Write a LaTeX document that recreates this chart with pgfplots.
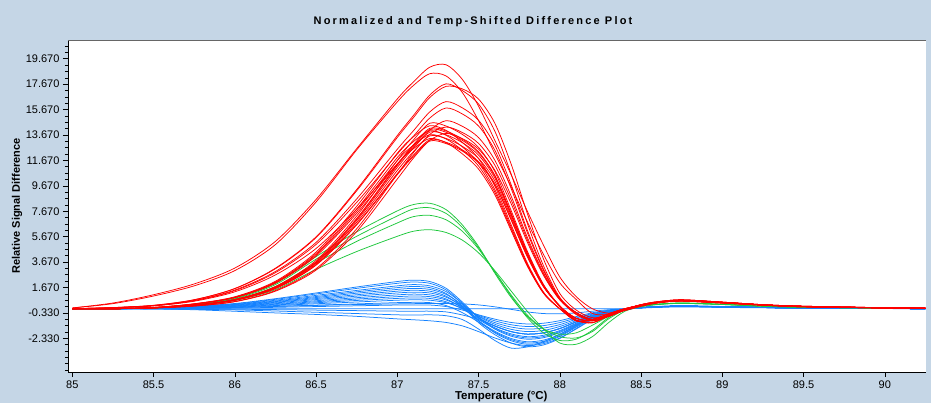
\documentclass[border=0pt]{standalone}
\usepackage{fontspec}
\setmainfont{Liberation Sans}
\newfontfamily\titlefont[LetterSpace=20]{Liberation Sans}
\usepackage{pgfplots}
\pgfplotsset{compat=1.18}
\definecolor{bgblue}{RGB}{197,214,230}
\definecolor{cblue}{RGB}{20,130,255}
\definecolor{cgreen}{RGB}{30,200,60}
\definecolor{cred}{RGB}{255,0,0}
\pgfplotsset{
  rl/.style={cred, line width=0.75pt, smooth, tension=0.5, no markers},
  gl/.style={cgreen, line width=0.75pt, smooth, tension=0.5, no markers},
  bl/.style={cblue, line width=0.75pt, smooth, tension=0.5, no markers},
}
\begin{document}
\begin{tikzpicture}[x=1pt,y=1pt]
\useasboundingbox (0,0) rectangle (931,403);
\fill[bgblue] (0,0) rectangle (931,403);
\node[font=\titlefont\bfseries\fontsize{11}{13}\selectfont] at (473,381) {Normalized and Temp-Shifted Difference Plot};
\begin{axis}[name=ax,
 at={(68pt,31pt)}, anchor=south west, scale only axis, width=858pt, height=332pt,
 xmin=84.9735, xmax=90.2535, ymin=-4.98, ymax=21.15,
 axis background/.style={fill=white},
 axis x line*=bottom, axis y line*=left,
 axis line style={black, line width=0.8pt, -},
 tick align=outside, major tick length=5pt, minor tick length=3pt,
 every tick/.style={black, line width=0.6pt},
 xtick={85,85.5,86,86.5,87,87.5,88,88.5,89,89.5,90},
 xticklabels={85,85.5,86,86.5,87,87.5,88,88.5,89,89.5,90},
 xticklabel style={font=\fontsize{11}{13}\selectfont},
 ytick={-2.33,-0.33,1.67,3.67,5.67,7.67,9.67,11.67,13.67,15.67,17.67,19.67},
 yticklabels={-2.330,-0.330,1.670,3.670,5.670,7.670,9.670,11.670,13.670,15.670,17.670,19.670},
 minor ytick={-4.83,-4.33,...,20.67},
 yticklabel style={font=\fontsize{11}{13}\selectfont},
 xlabel={Temperature (°C)}, ylabel={Relative Signal Difference},
 every axis x label/.style={at={(axis description cs:0.505,-0.0735)},anchor=center,font=\bfseries\fontsize{11.5}{13}\selectfont},
 every axis y label/.style={at={(axis description cs:-0.0594,0.5)},rotate=90,anchor=center,font=\bfseries\fontsize{11}{13}\selectfont},
]
% ---------------- blue ----------------
\addplot[bl] coordinates {(85,0)(85.25,0)(85.5,0.07)(85.75,0.2)(86,0.41)(86.25,0.79)(86.5,1.24)(86.75,1.71)(87,2.14)(87.1,2.25)(87.2,2.14)(87.3,1.61)(87.4,0.53)(87.5,-0.7)(87.6,-1.6)(87.7,-2.16)(87.8,-2.4)(87.9,-2.28)(88,-1.87)(88.1,-1.25)(88.2,-0.65)(88.3,-0.24)(88.4,-0.05)(88.5,0.08)(88.6,0.15)(88.75,0.2)(89,0.15)(89.25,0.1)(89.5,0.06)(90,0.02)(90.25,0)};
\addplot[bl] coordinates {(85,0)(85.25,0)(85.5,0.06)(85.75,0.19)(86,0.38)(86.25,0.74)(86.5,1.16)(86.75,1.6)(87,2.0)(87.1,2.1)(87.2,2.0)(87.3,1.48)(87.4,0.39)(87.5,-0.95)(87.6,-1.9)(87.7,-2.52)(87.8,-2.8)(87.9,-2.66)(88,-2.18)(88.1,-1.46)(88.2,-0.76)(88.3,-0.28)(88.4,-0.06)(88.5,0.1)(88.6,0.18)(88.75,0.24)(89,0.18)(89.25,0.12)(89.5,0.07)(90,0.02)(90.25,0)};
\addplot[bl] coordinates {(85,0)(85.25,0)(85.5,0.06)(85.75,0.17)(86,0.34)(86.25,0.67)(86.5,1.05)(86.75,1.44)(87,1.8)(87.1,1.9)(87.2,1.8)(87.3,1.35)(87.4,0.42)(87.5,-0.7)(87.6,-1.5)(87.7,-1.98)(87.8,-2.2)(87.9,-2.09)(88,-1.72)(88.1,-1.14)(88.2,-0.59)(88.3,-0.22)(88.4,-0.04)(88.5,0.08)(88.6,0.15)(88.75,0.2)(89,0.15)(89.25,0.1)(89.5,0.06)(90,0.02)(90.25,0)};
\addplot[bl] coordinates {(85,0)(85.25,0)(85.5,0.05)(85.75,0.16)(86,0.32)(86.25,0.61)(86.5,0.96)(86.75,1.33)(87,1.66)(87.1,1.75)(87.2,1.66)(87.3,1.2)(87.4,0.19)(87.5,-1.1)(87.6,-2.04)(87.7,-2.7)(87.8,-3.0)(87.9,-2.85)(88,-2.34)(88.1,-1.56)(88.2,-0.81)(88.3,-0.3)(88.4,-0.06)(88.5,0.06)(88.6,0.13)(88.75,0.18)(89,0.14)(89.25,0.09)(89.5,0.05)(90,0.02)(90.25,0)};
\addplot[bl] coordinates {(85,0)(85.25,0)(85.5,0.05)(85.75,0.14)(86,0.29)(86.25,0.56)(86.5,0.88)(86.75,1.22)(87,1.52)(87.1,1.6)(87.2,1.52)(87.3,1.13)(87.4,0.32)(87.5,-0.7)(87.6,-1.36)(87.7,-1.8)(87.8,-2.0)(87.9,-1.9)(88,-1.56)(88.1,-1.04)(88.2,-0.54)(88.3,-0.2)(88.4,-0.04)(88.5,0.08)(88.6,0.15)(88.75,0.2)(89,0.15)(89.25,0.1)(89.5,0.06)(90,0.02)(90.25,0)};
\addplot[bl] coordinates {(85,0)(85.25,0)(85.5,0.04)(85.75,0.13)(86,0.26)(86.25,0.51)(86.5,0.8)(86.75,1.1)(87,1.38)(87.1,1.45)(87.2,1.38)(87.3,0.99)(87.4,0.13)(87.5,-0.95)(87.6,-1.77)(87.7,-2.34)(87.8,-2.6)(87.9,-2.47)(88,-2.03)(88.1,-1.35)(88.2,-0.7)(88.3,-0.26)(88.4,-0.05)(88.5,0.1)(88.6,0.17)(88.75,0.22)(89,0.17)(89.25,0.11)(89.5,0.06)(90,0.02)(90.25,0)};
\addplot[bl] coordinates {(85,0)(85.25,0)(85.5,0.04)(85.75,0.12)(86,0.23)(86.25,0.46)(86.5,0.72)(86.75,0.99)(87,1.24)(87.1,1.3)(87.2,1.24)(87.3,0.91)(87.4,0.23)(87.5,-0.62)(87.6,-1.22)(87.7,-1.62)(87.8,-1.8)(87.9,-1.71)(88,-1.4)(88.1,-0.94)(88.2,-0.49)(88.3,-0.18)(88.4,-0.04)(88.5,0.08)(88.6,0.15)(88.75,0.2)(89,0.15)(89.25,0.1)(89.5,0.06)(90,0.02)(90.25,0)};
\addplot[bl] coordinates {(85,0)(85.25,0)(85.5,0.03)(85.75,0.1)(86,0.21)(86.25,0.4)(86.5,0.63)(86.75,0.87)(87,1.09)(87.1,1.15)(87.2,1.09)(87.3,0.77)(87.4,0.06)(87.5,-0.85)(87.6,-1.56)(87.7,-2.07)(87.8,-2.3)(87.9,-2.19)(88,-1.79)(88.1,-1.2)(88.2,-0.62)(88.3,-0.23)(88.4,-0.05)(88.5,0.07)(88.6,0.14)(88.75,0.19)(89,0.14)(89.25,0.09)(89.5,0.05)(90,0.02)(90.25,0)};
\addplot[bl] coordinates {(85,0)(85.25,0)(85.5,0.03)(85.75,0.09)(86,0.18)(86.25,0.35)(86.5,0.55)(86.75,0.76)(87,0.95)(87.1,1.0)(87.2,0.95)(87.3,0.69)(87.4,0.13)(87.5,-0.58)(87.6,-1.09)(87.7,-1.44)(87.8,-1.6)(87.9,-1.52)(88,-1.25)(88.1,-0.83)(88.2,-0.43)(88.3,-0.16)(88.4,-0.03)(88.5,0.08)(88.6,0.15)(88.75,0.2)(89,0.15)(89.25,0.1)(89.5,0.06)(90,0.02)(90.25,0)};
\addplot[bl] coordinates {(85,0)(85.25,0)(85.5,0.03)(85.75,0.08)(86,0.15)(86.25,0.3)(86.5,0.47)(86.75,0.65)(87,0.81)(87.1,0.85)(87.2,0.81)(87.3,0.55)(87.4,-0.02)(87.5,-0.76)(87.6,-1.36)(87.7,-1.8)(87.8,-2.0)(87.9,-1.9)(88,-1.56)(88.1,-1.04)(88.2,-0.54)(88.3,-0.2)(88.4,-0.04)(88.5,0.08)(88.6,0.15)(88.75,0.2)(89,0.15)(89.25,0.1)(89.5,0.06)(90,0.02)(90.25,0)};
\addplot[bl] coordinates {(85,0)(85.25,0)(85.5,0.02)(85.75,0.06)(86,0.13)(86.25,0.25)(86.5,0.39)(86.75,0.53)(87,0.67)(87.1,0.7)(87.2,0.67)(87.3,0.47)(87.4,0.04)(87.5,-0.52)(87.6,-0.95)(87.7,-1.26)(87.8,-1.4)(87.9,-1.33)(88,-1.09)(88.1,-0.73)(88.2,-0.38)(88.3,-0.14)(88.4,-0.03)(88.5,0.08)(88.6,0.15)(88.75,0.2)(89,0.15)(89.25,0.1)(89.5,0.06)(90,0.02)(90.25,0)};
\addplot[bl] coordinates {(85,0)(85.25,0)(85.5,0.02)(85.75,0.05)(86,0.09)(86.25,0.18)(86.5,0.28)(86.75,0.38)(87,0.48)(87.1,0.5)(87.2,0.48)(87.3,0.25)(87.4,-0.31)(87.5,-1.05)(87.6,-1.84)(87.7,-2.43)(87.8,-2.7)(87.9,-2.57)(88,-2.11)(88.1,-1.4)(88.2,-0.73)(88.3,-0.27)(88.4,-0.05)(88.5,0.08)(88.6,0.15)(88.75,0.2)(89,0.15)(89.25,0.1)(89.5,0.06)(90,0.02)(90.25,0)};
\addplot[bl] coordinates {(85,0)(85.25,0)(85.5,0.01)(85.75,0.03)(86,0.05)(86.25,0.11)(86.5,0.17)(86.75,0.23)(87,0.29)(87.1,0.3)(87.2,0.29)(87.3,0.17)(87.4,-0.1)(87.5,-0.48)(87.6,-0.82)(87.7,-1.08)(87.8,-1.2)(87.9,-1.14)(88,-0.94)(88.1,-0.62)(88.2,-0.32)(88.3,-0.12)(88.4,-0.02)(88.5,0.08)(88.6,0.15)(88.75,0.2)(89,0.15)(89.25,0.1)(89.5,0.06)(90,0.02)(90.25,0)};
\addplot[bl] coordinates {(85,0)(85.25,0)(85.5,0.01)(85.75,0.04)(86,0.1)(86.25,0.18)(86.5,0.26)(86.75,0.33)(87,0.38)(87.1,0.4)(87.2,0.41)(87.3,0.41)(87.4,0.38)(87.5,0.3)(87.6,0.15)(87.7,-0.05)(87.8,-0.25)(87.9,-0.38)(88,-0.4)(88.1,-0.33)(88.2,-0.2)(88.3,-0.08)(88.4,-0.01)(88.5,0.08)(88.6,0.15)(88.75,0.2)(89,0.15)(89.25,0.1)(89.5,0.06)(90,0.02)(90.25,0)};
\addplot[bl] coordinates {(85,0)(85.25,0)(85.5,0)(85.75,0)(86,0)(86.25,0)(86.5,0)(86.75,0)(87,0)(87.1,0)(87.2,0)(87.3,0)(87.4,0)(87.5,0)(87.6,0)(87.7,0)(87.8,0)(87.9,0)(88,0)(88.1,0)(88.2,0)(88.3,0)(88.4,0)(88.5,0.05)(88.6,0.1)(88.75,0.14)(89,0.1)(89.25,0.07)(89.5,0.04)(90,0.01)(90.25,0)};
\addplot[bl] coordinates {(85,0)(85.25,0)(85.5,-0.02)(85.75,-0.05)(86,-0.09)(86.25,-0.18)(86.5,-0.28)(86.75,-0.38)(87,-0.48)(87.1,-0.5)(87.2,-0.48)(87.3,-0.55)(87.4,-0.85)(87.5,-1.6)(87.6,-2.5)(87.7,-3.1)(87.8,-3.0)(87.9,-2.6)(88,-2.0)(88.1,-1.3)(88.2,-0.7)(88.3,-0.25)(88.4,-0.05)(88.5,0.08)(88.6,0.15)(88.75,0.2)(89,0.15)(89.25,0.1)(89.5,0.06)(90,0.02)(90.25,0)};
\addplot[bl] coordinates {(85,0)(85.25,0)(85.5,-0.02)(85.75,-0.08)(86,-0.2)(86.25,-0.33)(86.5,-0.45)(86.75,-0.6)(87,-0.8)(87.1,-0.87)(87.2,-0.95)(87.3,-1.08)(87.4,-1.35)(87.5,-1.8)(87.6,-2.3)(87.7,-2.7)(87.8,-2.9)(87.9,-2.75)(88,-2.3)(88.1,-1.6)(88.2,-0.85)(88.3,-0.3)(88.4,-0.05)(88.5,0.08)(88.6,0.15)(88.75,0.2)(89,0.15)(89.25,0.1)(89.5,0.06)(90,0.02)(90.25,0)};
\addplot[bl] coordinates {(85,0)(85.25,0)(85.5,-0.01)(85.75,-0.02)(86,-0.04)(86.25,-0.07)(86.5,-0.11)(86.75,-0.15)(87,-0.19)(87.1,-0.2)(87.2,-0.19)(87.3,-0.25)(87.4,-0.49)(87.5,-0.85)(87.6,-1.36)(87.7,-1.8)(87.8,-2.0)(87.9,-1.9)(88,-1.56)(88.1,-1.04)(88.2,-0.54)(88.3,-0.2)(88.4,-0.04)(88.5,0.08)(88.6,0.15)(88.75,0.2)(89,0.15)(89.25,0.1)(89.5,0.06)(90,0.02)(90.25,0)};
% ---------------- green ----------------
\addplot[gl] coordinates {(85,0)(85.25,0)(85.5,0.08)(85.75,0.33)(86,0.83)(86.25,2.0)(86.5,4.1)(86.75,6.05)(87,7.7)(87.1,8.2)(87.2,8.3)(87.3,7.8)(87.4,6.6)(87.5,4.9)(87.6,2.8)(87.7,0.9)(87.8,-0.6)(87.9,-1.6)(88,-2.0)(88.1,-1.9)(88.2,-1.3)(88.3,-0.6)(88.4,-0.05)(88.5,0.2)(88.6,0.35)(88.75,0.45)(89,0.35)(89.25,0.2)(89.5,0.12)(90,0.05)(90.25,0.02)};
\addplot[gl] coordinates {(85,0)(85.25,0)(85.5,0.08)(85.75,0.3)(86,0.78)(86.25,1.9)(86.5,3.9)(86.75,5.7)(87,7.3)(87.1,7.85)(87.2,7.95)(87.3,7.5)(87.4,6.4)(87.5,4.8)(87.6,2.9)(87.7,1.0)(87.8,-0.7)(87.9,-1.9)(88,-2.5)(88.1,-2.4)(88.2,-1.7)(88.3,-0.7)(88.4,-0.05)(88.5,0.2)(88.6,0.35)(88.75,0.42)(89,0.33)(89.25,0.2)(89.5,0.12)(90,0.05)(90.25,0.02)};
\addplot[gl] coordinates {(85,0)(85.25,0)(85.5,0.06)(85.75,0.28)(86,0.72)(86.25,1.75)(86.5,3.6)(86.75,5.3)(87,6.75)(87.1,7.25)(87.2,7.35)(87.3,7.0)(87.4,6.1)(87.5,4.7)(87.6,2.9)(87.7,1.1)(87.8,-0.5)(87.9,-1.6)(88,-2.2)(88.1,-2.3)(88.2,-1.8)(88.3,-0.8)(88.4,-0.1)(88.5,0.2)(88.6,0.35)(88.75,0.45)(89,0.35)(89.25,0.2)(89.5,0.12)(90,0.05)(90.25,0.02)};
\addplot[gl] coordinates {(85,0)(85.25,0)(85.5,0.06)(85.75,0.25)(86,0.65)(86.25,1.5)(86.5,3.1)(86.75,4.5)(87,5.7)(87.1,6.1)(87.2,6.22)(87.3,6.0)(87.4,5.4)(87.5,4.4)(87.6,3.0)(87.7,1.4)(87.8,-0.2)(87.9,-1.6)(88,-2.7)(88.1,-2.8)(88.2,-2.2)(88.3,-1.1)(88.4,-0.2)(88.5,0.15)(88.6,0.32)(88.75,0.42)(89,0.33)(89.25,0.2)(89.5,0.12)(90,0.05)(90.25,0.02)};
% ---------------- red ----------------
\addplot[rl] coordinates {(85,0.06)(85.25,0.45)(85.5,1.1)(85.75,1.95)(86,3.2)(86.25,5.3)(86.5,8.6)(86.75,12.6)(87,16.51)(87.1,17.86)(87.2,19.01)(87.3,19.2)(87.4,18.05)(87.5,15.94)(87.6,13.25)(87.7,10.56)(87.8,7.68)(87.9,4.99)(88,2.5)(88.1,0.96)(88.2,0)(88.3,-0.35)(88.4,-0.15)(88.5,0.2)(88.6,0.45)(88.75,0.65)(89,0.5)(89.25,0.3)(89.5,0.18)(90,0.07)(90.25,0.04)};
\addplot[rl] coordinates {(85,0.06)(85.25,0.4)(85.5,1.0)(85.75,1.8)(86,3.0)(86.25,5.05)(86.5,8.4)(86.75,12.5)(87,16.28)(87.1,17.58)(87.2,18.5)(87.3,18.32)(87.4,17.02)(87.5,14.8)(87.6,12.21)(87.7,9.62)(87.8,6.85)(87.9,4.26)(88,2.04)(88.1,0.74)(88.2,-0.37)(88.3,-0.45)(88.4,-0.12)(88.5,0.2)(88.6,0.45)(88.75,0.62)(89,0.48)(89.25,0.3)(89.5,0.17)(90,0.07)(90.25,0.04)};
\addplot[rl] coordinates {(85,0)(85.25,0.09)(85.5,0.27)(85.75,0.71)(86,1.59)(86.25,3.19)(86.5,5.66)(86.75,9.38)(87,13.63)(87.1,15.22)(87.2,16.82)(87.3,17.7)(87.4,17.17)(87.5,16.11)(87.6,13.98)(87.7,10.62)(87.8,6.73)(87.9,3.36)(88,0.89)(88.1,-0.3)(88.2,-0.85)(88.3,-0.6)(88.4,-0.1)(88.5,0.25)(88.6,0.5)(88.75,0.66)(89,0.5)(89.25,0.3)(89.5,0.18)(90,0.07)(90.25,0.04)};
\addplot[rl] coordinates {(85,0)(85.25,0.09)(85.5,0.26)(85.75,0.7)(86,1.58)(86.25,3.15)(86.5,5.6)(86.75,9.28)(87,13.48)(87.1,15.05)(87.2,16.63)(87.3,17.5)(87.4,17.3)(87.5,16.5)(87.6,14.6)(87.7,11.4)(87.8,7.5)(87.9,3.9)(88,1.2)(88.1,-0.1)(88.2,-0.7)(88.3,-0.55)(88.4,-0.1)(88.5,0.25)(88.6,0.5)(88.75,0.66)(89,0.5)(89.25,0.3)(89.5,0.18)(90,0.07)(90.25,0.04)};
\addplot[rl] coordinates {(85,0)(85.25,0.08)(85.5,0.24)(85.75,0.65)(86,1.47)(86.25,2.93)(86.5,5.22)(86.75,8.64)(87,12.55)(87.1,14.02)(87.2,15.49)(87.3,16.3)(87.4,15.81)(87.5,14.83)(87.6,12.88)(87.7,9.78)(87.8,6.19)(87.9,3.1)(88,0.82)(88.1,-0.3)(88.2,-0.85)(88.3,-0.6)(88.4,-0.1)(88.5,0.25)(88.6,0.5)(88.75,0.66)(89,0.5)(89.25,0.3)(89.5,0.18)(90,0.07)(90.25,0.04)};
\addplot[rl] coordinates {(85,0)(85.25,0.08)(85.5,0.24)(85.75,0.63)(86,1.42)(86.25,2.84)(86.5,5.06)(86.75,8.37)(87,12.17)(87.1,13.59)(87.2,15.01)(87.3,15.8)(87.4,15.33)(87.5,14.38)(87.6,12.48)(87.7,9.48)(87.8,6.0)(87.9,3.0)(88,0.79)(88.1,-0.4)(88.2,-0.9)(88.3,-0.55)(88.4,-0.08)(88.5,0.28)(88.6,0.52)(88.75,0.68)(89,0.5)(89.25,0.3)(89.5,0.18)(90,0.07)(90.25,0.04)};
\addplot[rl] coordinates {(85,0)(85.25,0.07)(85.5,0.22)(85.75,0.59)(86,1.33)(86.25,2.66)(86.5,4.74)(86.75,7.84)(87,11.4)(87.1,12.73)(87.2,14.06)(87.3,14.8)(87.4,14.36)(87.5,13.47)(87.6,11.69)(87.7,8.88)(87.8,5.62)(87.9,2.81)(88,0.74)(88.1,-0.45)(88.2,-0.95)(88.3,-0.6)(88.4,-0.1)(88.5,0.25)(88.6,0.5)(88.75,0.64)(89,0.48)(89.25,0.3)(89.5,0.18)(90,0.07)(90.25,0.04)};
\addplot[rl] coordinates {(85,0)(85.25,0)(85.5,0.07)(85.75,0.29)(86,0.73)(86.25,1.75)(86.5,3.8)(86.75,7.3)(87,11.68)(87.1,13.29)(87.2,14.6)(87.3,14.38)(87.4,13.72)(87.5,12.7)(87.6,10.8)(87.7,7.74)(87.8,4.53)(87.9,1.9)(88,0.22)(88.1,-0.75)(88.2,-0.95)(88.3,-0.5)(88.4,-0.05)(88.5,0.3)(88.6,0.5)(88.75,0.62)(89,0.48)(89.25,0.3)(89.5,0.18)(90,0.07)(90.25,0.04)};
\addplot[rl] coordinates {(85,0)(85.25,0)(85.5,0.07)(85.75,0.28)(86,0.71)(86.25,1.7)(86.5,3.69)(86.75,7.1)(87,11.36)(87.1,12.92)(87.2,14.2)(87.3,13.99)(87.4,13.35)(87.5,12.35)(87.6,10.51)(87.7,7.53)(87.8,4.4)(87.9,1.85)(88,0.21)(88.1,-0.9)(88.2,-1.1)(88.3,-0.55)(88.4,-0.05)(88.5,0.32)(88.6,0.55)(88.75,0.7)(89,0.52)(89.25,0.32)(89.5,0.2)(90,0.08)(90.25,0.05)};
\addplot[rl] coordinates {(85,0)(85.25,0)(85.5,0.07)(85.75,0.28)(86,0.7)(86.25,1.67)(86.5,3.61)(86.75,6.95)(87,11.12)(87.1,12.65)(87.2,13.9)(87.3,13.69)(87.4,13.07)(87.5,12.09)(87.6,10.29)(87.7,7.37)(87.8,4.31)(87.9,1.81)(88,0.21)(88.1,-0.75)(88.2,-0.95)(88.3,-0.5)(88.4,-0.05)(88.5,0.3)(88.6,0.5)(88.75,0.62)(89,0.48)(89.25,0.3)(89.5,0.18)(90,0.07)(90.25,0.04)};
\addplot[rl] coordinates {(85,0)(85.25,0)(85.5,0.07)(85.75,0.27)(86,0.68)(86.25,1.63)(86.5,3.54)(86.75,6.8)(87,10.88)(87.1,12.38)(87.2,13.6)(87.3,13.4)(87.4,12.78)(87.5,11.83)(87.6,10.06)(87.7,7.21)(87.8,4.22)(87.9,1.77)(88,0.2)(88.1,-0.95)(88.2,-0.85)(88.3,-0.4)(88.4,0)(88.5,0.28)(88.6,0.48)(88.75,0.6)(89,0.45)(89.25,0.28)(89.5,0.15)(90,0.06)(90.25,0.03)};
\addplot[rl] coordinates {(85,0)(85.25,0)(85.5,0.07)(85.75,0.27)(86,0.67)(86.25,1.6)(86.5,3.46)(86.75,6.65)(87,10.64)(87.1,12.1)(87.2,13.3)(87.3,13.1)(87.4,12.5)(87.5,11.57)(87.6,9.84)(87.7,7.05)(87.8,4.12)(87.9,1.73)(88,0.2)(88.1,-0.9)(88.2,-1.1)(88.3,-0.55)(88.4,-0.05)(88.5,0.32)(88.6,0.55)(88.75,0.7)(89,0.52)(89.25,0.32)(89.5,0.2)(90,0.08)(90.25,0.05)};
\addplot[rl] coordinates {(85,0)(85.25,0)(85.5,0.07)(85.75,0.28)(86,0.71)(86.25,1.69)(86.5,3.67)(86.75,7.05)(87,11.28)(87.1,12.83)(87.2,14.1)(87.3,13.89)(87.4,13.25)(87.5,12.27)(87.6,10.43)(87.7,7.47)(87.8,4.37)(87.9,1.83)(88,0.21)(88.1,-0.75)(88.2,-0.95)(88.3,-0.5)(88.4,-0.05)(88.5,0.3)(88.6,0.5)(88.75,0.62)(89,0.48)(89.25,0.3)(89.5,0.18)(90,0.07)(90.25,0.04)};
\addplot[rl] coordinates {(85,0)(85.25,0)(85.5,0.07)(85.75,0.26)(86,0.66)(86.25,1.58)(86.5,3.43)(86.75,6.6)(87,10.56)(87.1,12.01)(87.2,13.2)(87.3,13.0)(87.4,12.41)(87.5,11.48)(87.6,9.77)(87.7,7.0)(87.8,4.09)(87.9,1.72)(88,0.2)(88.1,-0.95)(88.2,-0.85)(88.3,-0.4)(88.4,0)(88.5,0.28)(88.6,0.48)(88.75,0.6)(89,0.45)(89.25,0.28)(89.5,0.15)(90,0.06)(90.25,0.03)};
\addplot[rl] coordinates {(85,0)(85.25,0)(85.5,0.1)(85.75,0.39)(86,0.94)(86.25,2.16)(86.5,4.46)(86.75,8.06)(87,12.24)(87.1,13.54)(87.2,14.4)(87.3,14.04)(87.4,13.1)(87.5,11.81)(87.6,9.65)(87.7,6.62)(87.8,3.6)(87.9,1.3)(88,0)(88.1,-0.95)(88.2,-0.85)(88.3,-0.4)(88.4,0)(88.5,0.28)(88.6,0.48)(88.75,0.6)(89,0.45)(89.25,0.28)(89.5,0.15)(90,0.06)(90.25,0.03)};
\addplot[rl] coordinates {(85,0)(85.25,0)(85.5,0.1)(85.75,0.38)(86,0.91)(86.25,2.1)(86.5,4.34)(86.75,7.84)(87,11.9)(87.1,13.16)(87.2,14.0)(87.3,13.65)(87.4,12.74)(87.5,11.48)(87.6,9.38)(87.7,6.44)(87.8,3.5)(87.9,1.26)(88,0)(88.1,-0.75)(88.2,-0.95)(88.3,-0.5)(88.4,-0.05)(88.5,0.3)(88.6,0.5)(88.75,0.62)(89,0.48)(89.25,0.3)(89.5,0.18)(90,0.07)(90.25,0.04)};
\addplot[rl] coordinates {(85,0)(85.25,0)(85.5,0.1)(85.75,0.37)(86,0.89)(86.25,2.06)(86.5,4.25)(86.75,7.67)(87,11.65)(87.1,12.88)(87.2,13.7)(87.3,13.36)(87.4,12.47)(87.5,11.23)(87.6,9.18)(87.7,6.3)(87.8,3.43)(87.9,1.23)(88,0)(88.1,-0.9)(88.2,-1.1)(88.3,-0.55)(88.4,-0.05)(88.5,0.32)(88.6,0.55)(88.75,0.7)(89,0.52)(89.25,0.32)(89.5,0.2)(90,0.08)(90.25,0.05)};
\addplot[rl] coordinates {(85,0)(85.25,0)(85.5,0.09)(85.75,0.36)(86,0.87)(86.25,2.01)(86.5,4.15)(86.75,7.5)(87,11.39)(87.1,12.6)(87.2,13.4)(87.3,13.07)(87.4,12.19)(87.5,10.99)(87.6,8.98)(87.7,6.16)(87.8,3.35)(87.9,1.21)(88,0)(88.1,-0.95)(88.2,-0.85)(88.3,-0.4)(88.4,0)(88.5,0.28)(88.6,0.48)(88.75,0.6)(89,0.45)(89.25,0.28)(89.5,0.15)(90,0.06)(90.25,0.03)};
\addplot[rl] coordinates {(85,0)(85.25,0)(85.5,0.06)(85.75,0.21)(86,0.57)(86.25,1.43)(86.5,3.15)(86.75,6.29)(87,10.58)(87.1,12.3)(87.2,13.73)(87.3,14.3)(87.4,13.87)(87.5,13.01)(87.6,11.3)(87.7,8.58)(87.8,5.43)(87.9,2.72)(88,0.72)(88.1,-0.3)(88.2,-0.85)(88.3,-0.6)(88.4,-0.1)(88.5,0.25)(88.6,0.5)(88.75,0.66)(89,0.5)(89.25,0.3)(89.5,0.18)(90,0.07)(90.25,0.04)};
\addplot[rl] coordinates {(85,0)(85.25,0)(85.5,0.06)(85.75,0.21)(86,0.55)(86.25,1.38)(86.5,3.04)(86.75,6.07)(87,10.21)(87.1,11.87)(87.2,13.25)(87.3,13.8)(87.4,13.39)(87.5,12.56)(87.6,10.9)(87.7,8.28)(87.8,5.24)(87.9,2.62)(88,0.69)(88.1,-0.3)(88.2,-0.85)(88.3,-0.6)(88.4,-0.1)(88.5,0.25)(88.6,0.5)(88.75,0.66)(89,0.5)(89.25,0.3)(89.5,0.18)(90,0.07)(90.25,0.04)};
\end{axis}
\draw[gray!80!black, line width=0.8pt] (ax.north west) -- (ax.north east);
\end{tikzpicture}
\end{document}
